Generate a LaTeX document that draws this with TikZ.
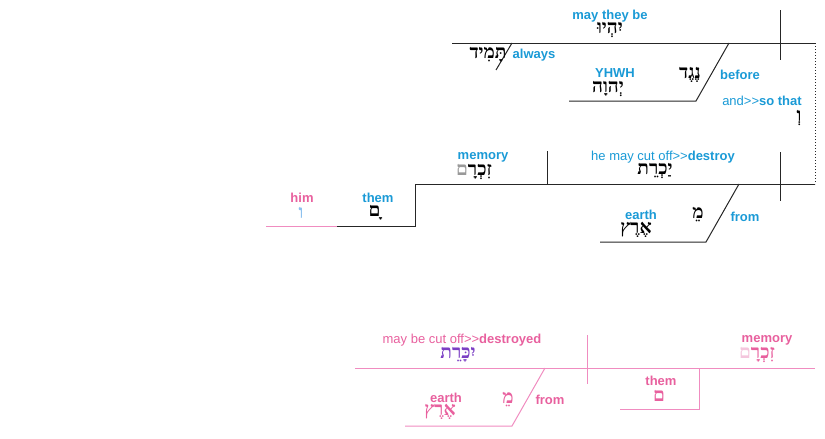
\documentclass[tikz,border=0pt]{standalone}
\usepackage{fontspec}
\setmainfont{Liberation Sans}
\newfontfamily\hebfont[Script=Hebrew]{Liberation Serif}
\TeXXeTstate=1
\usetikzlibrary{positioning}
\definecolor{lblue}{HTML}{1A9AD6}
\definecolor{lpink}{HTML}{E8609E}
\definecolor{pinkline}{HTML}{F08CC0}
\definecolor{hpurple}{HTML}{7B3FC4}
\definecolor{vavblue}{HTML}{8CC0EE}
\definecolor{palepink}{HTML}{F4C6DD}
\newcommand{\heb}[1]{{\hebfont\bfseries\beginR #1\endR}}
% word with a differently coloured final letter (left side)
\newcommand{\hebfin}[3]{{\hebfont\bfseries{\color{#1}#2}#3}}
\newcommand{\glossto}{>\kern0pt>}

\begin{document}
\begin{tikzpicture}[x=1pt, y=-1pt,
    every node/.style={inner sep=0pt},
    eng/.style={text=lblue, font=\bfseries\fontsize{13}{14}\selectfont},
    pnk/.style={text=lpink, font=\bfseries\fontsize{13}{14}\selectfont},
    hb/.style={font=\fontsize{19}{20}\selectfont},
    base/.style={draw=black!85, line width=1pt},
    pbase/.style={draw=pinkline, line width=1pt}]
  \useasboundingbox (0,0) rectangle (825,439);

  % Clausula superior
  \coordinate (L1) at (452,43);
  \coordinate (R1) at (815,43);
  \coordinate (Dt) at (780,10);
  \coordinate (Db) at (780,60);
  \coordinate (A1) at (512,43);
  \coordinate (A2) at (496,70);
  \coordinate (B1) at (729,43);
  \coordinate (B2) at (696,101);
  \coordinate (B3) at (569,101);
  \draw[base] (L1) -- (R1);
  \draw[base] (Dt) -- (Db);
  \draw[base] (A1) -- (A2);
  \draw[base] (B1) -- (B2) -- (B3);

  \node[eng] (be) at (610,16) {may they be};
  \node[hb] (yihyu) at (610,30) {\heb{יִהְיוּ}};
  \node[hb] (tamid) at (488,55) {\heb{תָּמִיד}};
  \node[eng] (always) at (534,55) {always};
  \node[eng] (yhwh) at (615,73) {YHWH};
  \node[hb] (yhwhh) at (608,89) {\heb{יְהוָה}};
  \node[hb] (neged) at (690,75) {\heb{נֶגֶד}};
  \node[eng] (before) at (740,75) {before};
  \node[eng] (sothat) at (762,101) {{\mdseries and\glossto}so that};
  \node[hb] (vav) at (799,118) {\heb{וְ}};

  % Clausula media
  \coordinate (R2) at (815,184);
  \coordinate (M1) at (415,184);
  \coordinate (M0) at (415,226);
  \coordinate (S1) at (337,226);
  \coordinate (H1) at (266,226);
  \coordinate (Et) at (547,151);
  \coordinate (Eb) at (547,184);
  \coordinate (Ct) at (780,152);
  \coordinate (Cb) at (780,201);
  \coordinate (F1) at (739,184);
  \coordinate (F2) at (706,242);
  \coordinate (F3) at (600,242);
  \draw[black!85, line width=1pt, dotted] (R1) -- (R2);
  \draw[base] (R2) -- (M1) -- (M0) -- (S1);
  \draw[pbase] (S1) -- (H1);
  \draw[base] (Et) -- (Eb);
  \draw[base] (Ct) -- (Cb);
  \draw[base] (F1) -- (F2) -- (F3);

  \node[eng] (memory) at (483,157) {memory};
  \node[hb] (zikram) at (474,172) {\hebfin{black!40}{ם}{זִכְרָ}};
  \node[eng] (them) at (378,198) {them};
  \node[hb] (mem) at (377,213) {{\hebfont\bfseries\symbol{"00A0}ָם}};
  \node[pnk] (him) at (302,198) {him};
  \node[hb, text=vavblue] (hvav) at (301,213) {\heb{ו}};
  \node[eng] (destroy) at (663,157) {{\mdseries he may cut off\glossto}destroy};
  \node[hb] (yakret) at (655,171) {\heb{יַכְרֵת}};
  \node[eng] (earth) at (641,215) {earth};
  \node[hb] (erets) at (636,230) {\heb{אֶרֶץ}};
  \node[hb] (me) at (698,215) {\heb{מֵ}};
  \node[eng] (from) at (745,217) {from};

  % Clausula inferior
  \coordinate (N1) at (355,368);
  \coordinate (N2) at (815,368);
  \coordinate (Pt) at (587,335);
  \coordinate (Pb) at (587,384);
  \coordinate (G1) at (545,368);
  \coordinate (G2) at (512,426);
  \coordinate (G3) at (405,426);
  \coordinate (T1) at (699,368);
  \coordinate (T2) at (699,409);
  \coordinate (T3) at (620,409);
  \draw[pbase] (N1) -- (N2);
  \draw[pbase] (Pt) -- (Pb);
  \draw[pbase] (G1) -- (G2) -- (G3);
  \draw[pbase] (T1) -- (T2) -- (T3);

  \node[pnk] (destroyed) at (462,340) {{\mdseries may be cut off\glossto}destroyed};
  \node[hb, text=hpurple] (yikaret) at (458,355) {\heb{יִכָּרֵת}};
  \node[pnk] (earthb) at (446,398) {earth};
  \node[hb, text=lpink] (eretsb) at (440,412) {\heb{אֶרֶץ}};
  \node[hb, text=lpink] (meb) at (508,400) {\heb{מֵ}};
  \node[pnk] (fromb) at (550,400) {from};
  \node[pnk] (memoryb) at (767,340) {memory};
  \node[hb, text=lpink] (zikramb) at (757,355) {\hebfin{palepink}{ם}{זִכְרָ}};
  \node[pnk] (themb) at (661,381) {them};
  \node[hb, text=lpink] (memb) at (659,396) {\heb{ם}};
\end{tikzpicture}
\end{document}
